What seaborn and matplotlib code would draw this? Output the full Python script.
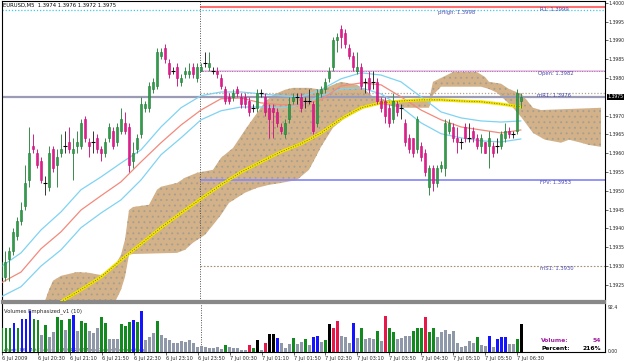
import numpy as np
import seaborn as sns
import matplotlib.pyplot as plt
from matplotlib.transforms import blended_transform_factory

sns.set_style("white")
plt.rcParams["font.family"] = ["DejaVu Sans"]
plt.rcParams["hatch.linewidth"] = 0.6

# EURUSD M5 candles, 6 Jul 19:45 .. 7 Jul 06:35
opens = [1.3927, 1.3927, 1.3932, 1.3934, 1.3938, 1.3942, 1.3946, 1.3953, 1.3962, 1.3960,
         1.3958, 1.3952, 1.3951, 1.3961, 1.3957, 1.3960, 1.3962, 1.3963, 1.3960, 1.3962,
         1.3962, 1.3969, 1.3963, 1.3963, 1.3964, 1.3961, 1.3960, 1.3964, 1.3966, 1.3963,
         1.3966, 1.3968, 1.3967, 1.3958, 1.3961, 1.3965, 1.3972, 1.3972, 1.3977, 1.3978,
         1.3986, 1.3988, 1.3984, 1.3982, 1.3983, 1.3979, 1.3981, 1.3981, 1.3983, 1.3980,
         1.3982, 1.3984, 1.3983, 1.3982, 1.3982, 1.3980, 1.3977, 1.3975, 1.3975, 1.3977,
         1.3975, 1.3975, 1.3974, 1.3972, 1.3972, 1.3976, 1.3975, 1.3972, 1.3972, 1.3971,
         1.3967, 1.3965, 1.3969, 1.3974, 1.3975, 1.3975, 1.3974, 1.3974, 1.3973, 1.3968,
         1.3976, 1.3977, 1.3980, 1.3983, 1.3990, 1.3993, 1.3992, 1.3988, 1.3986, 1.3982,
         1.3983, 1.3979, 1.3980, 1.3979, 1.3979, 1.3974, 1.3974, 1.3972, 1.3969, 1.3973,
         1.3972, 1.3968, 1.3964, 1.3964, 1.3961, 1.3962, 1.3960, 1.3951, 1.3956, 1.3952,
         1.3956, 1.3956, 1.3966, 1.3967, 1.3964, 1.3963, 1.3967, 1.3964, 1.3966, 1.3964,
         1.3962, 1.3963, 1.3962, 1.3962, 1.3962, 1.3962, 1.3964, 1.3966, 1.3965, 1.3966,
         1.3974]
highs = [1.3933, 1.3934, 1.3935, 1.3940, 1.3943, 1.3947, 1.3957, 1.3967, 1.3965, 1.3961,
         1.3959, 1.3954, 1.3962, 1.3962, 1.3961, 1.3965, 1.3966, 1.3967, 1.3964, 1.3966,
         1.3969, 1.3970, 1.3964, 1.3966, 1.3965, 1.3962, 1.3964, 1.3968, 1.3967, 1.3968,
         1.3972, 1.3971, 1.3968, 1.3963, 1.3965, 1.3975, 1.3974, 1.3979, 1.3980, 1.3988,
         1.3988, 1.3989, 1.3985, 1.3983, 1.3984, 1.3981, 1.3983, 1.3984, 1.3984, 1.3984,
         1.3984, 1.3987, 1.3987, 1.3983, 1.3983, 1.3981, 1.3978, 1.3976, 1.3977, 1.3978,
         1.3976, 1.3976, 1.3975, 1.3973, 1.3977, 1.3977, 1.3976, 1.3973, 1.3973, 1.3972,
         1.3968, 1.3969, 1.3975, 1.3976, 1.3976, 1.3976, 1.3975, 1.3977, 1.3974, 1.3977,
         1.3978, 1.3980, 1.3983, 1.3991, 1.3992, 1.3994, 1.3993, 1.3989, 1.3987, 1.3987,
         1.3984, 1.3980, 1.3982, 1.3982, 1.3980, 1.3975, 1.3975, 1.3973, 1.3976, 1.3974,
         1.3973, 1.3969, 1.3965, 1.3964, 1.3970, 1.3963, 1.3961, 1.3957, 1.3957, 1.3957,
         1.3958, 1.3969, 1.3969, 1.3968, 1.3967, 1.3964, 1.3968, 1.3968, 1.3967, 1.3965,
         1.3965, 1.3963, 1.3966, 1.3963, 1.3964, 1.3966, 1.3968, 1.3967, 1.3966, 1.3977,
         1.3976]
lows = [1.3926, 1.3926, 1.3926, 1.3933, 1.3937, 1.3941, 1.3945, 1.3951, 1.3960, 1.3956,
        1.3952, 1.3949, 1.3950, 1.3955, 1.3951, 1.3959, 1.3960, 1.3960, 1.3953, 1.3960,
        1.3961, 1.3963, 1.3959, 1.3960, 1.3960, 1.3958, 1.3959, 1.3963, 1.3961, 1.3962,
        1.3965, 1.3965, 1.3955, 1.3956, 1.3960, 1.3964, 1.3971, 1.3971, 1.3976, 1.3977,
        1.3985, 1.3984, 1.3980, 1.3981, 1.3978, 1.3978, 1.3980, 1.3980, 1.3980, 1.3979,
        1.3982, 1.3983, 1.3982, 1.3981, 1.3980, 1.3977, 1.3973, 1.3973, 1.3974, 1.3975,
        1.3972, 1.3972, 1.3970, 1.3971, 1.3971, 1.3975, 1.3970, 1.3964, 1.3964, 1.3967,
        1.3965, 1.3964, 1.3968, 1.3973, 1.3973, 1.3971, 1.3972, 1.3973, 1.3965, 1.3967,
        1.3975, 1.3976, 1.3979, 1.3982, 1.3987, 1.3988, 1.3988, 1.3985, 1.3982, 1.3981,
        1.3977, 1.3976, 1.3976, 1.3977, 1.3973, 1.3971, 1.3968, 1.3967, 1.3968, 1.3970,
        1.3969, 1.3962, 1.3960, 1.3959, 1.3960, 1.3958, 1.3954, 1.3949, 1.3950, 1.3951,
        1.3955, 1.3954, 1.3965, 1.3963, 1.3960, 1.3961, 1.3963, 1.3963, 1.3963, 1.3961,
        1.3960, 1.3960, 1.3956, 1.3959, 1.3960, 1.3961, 1.3963, 1.3964, 1.3964, 1.3965,
        1.3972]
closes = [1.3931, 1.3931, 1.3934, 1.3939, 1.3942, 1.3945, 1.3952, 1.3960, 1.3961, 1.3957,
          1.3953, 1.3952, 1.3960, 1.3956, 1.3959, 1.3961, 1.3962, 1.3961, 1.3961, 1.3963,
          1.3968, 1.3964, 1.3962, 1.3963, 1.3961, 1.3960, 1.3963, 1.3967, 1.3962, 1.3967,
          1.3969, 1.3966, 1.3957, 1.3960, 1.3964, 1.3973, 1.3973, 1.3978, 1.3979, 1.3987,
          1.3987, 1.3985, 1.3981, 1.3982, 1.3980, 1.3980, 1.3982, 1.3982, 1.3981, 1.3983,
          1.3983, 1.3984, 1.3984, 1.3982, 1.3981, 1.3978, 1.3974, 1.3974, 1.3976, 1.3976,
          1.3973, 1.3973, 1.3971, 1.3972, 1.3976, 1.3976, 1.3971, 1.3969, 1.3971, 1.3968,
          1.3966, 1.3968, 1.3973, 1.3975, 1.3975, 1.3972, 1.3974, 1.3974, 1.3966, 1.3976,
          1.3977, 1.3979, 1.3982, 1.3990, 1.3991, 1.3991, 1.3989, 1.3986, 1.3983, 1.3983,
          1.3978, 1.3979, 1.3977, 1.3979, 1.3974, 1.3972, 1.3970, 1.3968, 1.3974, 1.3971,
          1.3972, 1.3963, 1.3961, 1.3960, 1.3969, 1.3959, 1.3955, 1.3956, 1.3952, 1.3956,
          1.3957, 1.3968, 1.3968, 1.3964, 1.3963, 1.3963, 1.3964, 1.3964, 1.3964, 1.3962,
          1.3964, 1.3960, 1.3964, 1.3960, 1.3962, 1.3965, 1.3966, 1.3965, 1.3965, 1.3976,
          1.3975]

volumes = [47, 47, 47, 56, 47, 63, 63, 78, 63, 62,
           33, 52, 28, 39, 67, 62, 42, 63, 71, 40,
           60, 55, 41, 36, 46, 67, 55, 24, 24, 24,
           53, 49, 58, 62, 58, 79, 23, 28, 36, 60,
           33, 26, 23, 17, 17, 21, 20, 23, 17, 10,
           12, 10, 8, 8, 10, 6, 13, 10, 7, 7,
           4, 4, 13, 8, 23, 4, 17, 34, 34, 26,
           17, 7, 15, 26, 15, 20, 25, 13, 28, 30,
           20, 23, 54, 47, 60, 31, 28, 18, 55, 26,
           46, 24, 26, 25, 40, 21, 69, 46, 38, 24,
           26, 31, 30, 40, 47, 47, 67, 38, 46, 28,
           39, 42, 35, 40, 17, 9, 12, 21, 18, 28,
           13, 12, 31, 10, 24, 28, 28, 15, 15, 24,
           54]
# g green, b blue, s grey, r red, k black
vol_kind = ("gggbgbbbgg" "sgssggsgbs" "ggsssggsss" "gggbgbsssg" "ssssssssss"
            "ssssssgsss" "ssrgksrkkb" "sssgssgsbb" "sgkrrsssbs" "gsssgsrggs"
            "sssgggrggs" "sssssssssg" "ssbsbbbssg" "k")

# envelope around the fast average, read every 5 bars
ma_idx = list(range(0, 131, 5))
ma_mid = [1.39255, 1.39284, 1.39346, 1.39391, 1.39449, 1.39487, 1.39524, 1.39577, 1.39628,
          1.39675, 1.39715, 1.39745, 1.39747, 1.39734, 1.39729, 1.39729, 1.39742, 1.39779,
          1.39787, 1.39782, 1.39750, 1.39715, 1.39689, 1.39670, 1.39662, 1.39654, 1.39662]
ma_up = [1.39298, 1.39335, 1.39396, 1.39444, 1.39503, 1.39537, 1.39574, 1.39609, 1.39670,
         1.39721, 1.39753, 1.39763, 1.39763, 1.39758, 1.39753, 1.39750, 1.39769, 1.39798,
         1.39814, 1.39808, 1.39790, 1.39750, 1.39710, 1.39694, 1.39686, 1.39683, 1.39686]
ma_dn = [1.39218, 1.39245, 1.39300, 1.39343, 1.39402, 1.39441, 1.39476, 1.39529, 1.39596,
         1.39641, 1.39689, 1.39713, 1.39723, 1.39723, 1.39721, 1.39729, 1.39753, 1.39771,
         1.39774, 1.39758, 1.39723, 1.39681, 1.39652, 1.39641, 1.39633, 1.39630, 1.39638]
slow_idx = list(range(15, 131, 5))
slow_ma = [1.39205, 1.39237, 1.39271, 1.39316, 1.39359, 1.39402, 1.39441, 1.39479, 1.39516,
           1.39550, 1.39577, 1.39604, 1.39625, 1.39654, 1.39691, 1.39721, 1.39734, 1.39739,
           1.39742, 1.39742, 1.39739, 1.39737, 1.39731, 1.39723]

# ichimoku cloud edges
cloud_top_idx = [11, 12, 13, 15, 19, 22, 25, 27, 29, 30, 31, 32, 33, 37, 39, 40, 44, 46, 49,
                 53, 55, 58, 61, 64, 66, 68, 71, 73, 77, 80, 83, 85, 89, 91, 93, 96, 100,
                 107, 108, 109, 113, 119, 121, 122, 125, 127, 130, 131, 133, 135, 150]
cloud_top = [1.39207, 1.39237, 1.39261, 1.39274, 1.39284, 1.39282, 1.39276, 1.39290, 1.39311,
             1.39330, 1.39370, 1.39449, 1.39457, 1.39463, 1.39503, 1.39511, 1.39521, 1.39535,
             1.39548, 1.39556, 1.39588, 1.39614, 1.39662, 1.39707, 1.39737, 1.39755, 1.39769,
             1.39774, 1.39774, 1.39769, 1.39782, 1.39790, 1.39782, 1.39769, 1.39750, 1.39742,
             1.39739, 1.39742, 1.39790, 1.39795, 1.39816, 1.39816, 1.39803, 1.39790, 1.39785,
             1.39771, 1.39758, 1.39747, 1.39721, 1.39715, 1.39721]
cloud_bot_idx = [11, 12, 28, 29, 30, 31, 32, 33, 44, 46, 48, 51, 53, 55, 57, 61, 64, 67, 70,
                 74, 77, 79, 80, 83, 86, 91, 95, 100, 107, 108, 110, 120, 122, 124, 126, 128,
                 130, 133, 136, 140, 142, 145, 147, 150]
cloud_bot = [1.39207, 1.39197, 1.39197, 1.39215, 1.39237, 1.39271, 1.39330, 1.39332, 1.39335,
             1.39343, 1.39362, 1.39383, 1.39409, 1.39436, 1.39468, 1.39495, 1.39508, 1.39516,
             1.39521, 1.39529, 1.39556, 1.39596, 1.39617, 1.39668, 1.39694, 1.39721, 1.39731,
             1.39721, 1.39721, 1.39755, 1.39777, 1.39777, 1.39771, 1.39761, 1.39742, 1.39721,
             1.39697, 1.39654, 1.39636, 1.39628, 1.39636, 1.39628, 1.39622, 1.39617]

lv_names = ["R1", "pHigh", "Open", "mR1", "FPV", "mS1"]
lv_values = [1.3999, 1.3998, 1.3982, 1.3976, 1.3953, 1.3930]

time_labels = ["6 Jul 2009", "6 Jul 20:30", "6 Jul 21:10", "6 Jul 21:50", "6 Jul 22:30",
               "6 Jul 23:10", "6 Jul 23:50", "7 Jul 00:30", "7 Jul 01:10", "7 Jul 01:50",
               "7 Jul 02:30", "7 Jul 03:10", "7 Jul 03:50", "7 Jul 04:30", "7 Jul 05:10",
               "7 Jul 05:50", "7 Jul 06:30"]
day_break = 49.75
vol_percent = 216

idx = np.arange(len(opens))
o, h, l, c = (np.array(v) for v in (opens, highs, lows, closes))

fig = plt.figure(figsize=(6.25, 3.63), dpi=100)
ax = fig.add_axes([2 / 625, 62 / 363, 603 / 625, 300 / 363])
axv = fig.add_axes([2 / 625, 11 / 363, 603 / 625, 49 / 363])
for a in (ax, axv):
    a.set_xlim(0.25, 151)
    a.set_facecolor("white")
    for s in a.spines.values():
        s.set_color("black")
        s.set_linewidth(0.8)
ax.spines["bottom"].set_color("#888888")
ax.spines["bottom"].set_linewidth(1.6)
axv.spines["top"].set_color("#888888")
axv.spines["top"].set_linewidth(1.6)
ax.set_ylim(1.39207, 1.40005)
axv.set_ylim(0, 94)

# cloud
cx = np.r_[cloud_top_idx, cloud_bot_idx[::-1]]
cy = np.r_[cloud_top, cloud_bot[::-1]]
ax.fill(cx, cy, facecolor="#d3b189", edgecolor="#a39f92", hatch="...", linewidth=0, zorder=1)

# levels
ax.axhline(lv_values[1], color="#40c8e8", ls=(0, (1, 1.5)), lw=0.9, zorder=2)
ax.hlines(lv_values[0], day_break, 151, color="#ff6f6f", lw=1.5, zorder=2)
ax.hlines(lv_values[2], day_break, 151, color="#f0c8e0", lw=1.4, zorder=2)
ax.hlines(lv_values[2], day_break, 151, color="#9a6ad0", lw=0.7, ls=(0, (1, 1.5)), zorder=2)
ax.hlines(lv_values[3], day_break, 151, color="#b5a48f", lw=0.9, ls=(0, (1, 1.5)), zorder=2)
ax.hlines(lv_values[4], day_break, 151, color="#8c8cf5", lw=1.3, zorder=2)
ax.hlines(lv_values[5], day_break, 151, color="#a89070", lw=0.8, ls=(0, (1.5, 1.5)), zorder=2)
ax.axhline(closes[-1], color="#9b9bb5", lw=1.6, zorder=2)
for a in (ax, axv):
    a.axvline(day_break, color="#505050", ls=(0, (1, 1.5)), lw=0.7, zorder=2)

lab_x = [134.75, 109.25, 134.25, 134, 134.75, 134.75]
for name, val, x in zip(lv_names, lv_values, lab_x):
    ax.text(x, val, f"{name}: {val:.4f}", fontsize=3.8, color="#4b4bb0", va="top", ha="left", zorder=7)

# averages
sns.lineplot(x=ma_idx, y=ma_up, ax=ax, color="#7fd3f2", lw=0.9, estimator=None, zorder=3)
sns.lineplot(x=ma_idx, y=ma_dn, ax=ax, color="#7fd3f2", lw=0.9, estimator=None, zorder=3)
sns.lineplot(x=ma_idx, y=ma_mid, ax=ax, color="#f28a7c", lw=0.9, estimator=None, zorder=3)
sns.lineplot(x=slow_idx, y=slow_ma, ax=ax, color="#f2e400", lw=2.2, estimator=None, zorder=3)
ax.plot(slow_idx, slow_ma, color="#5a5a00", lw=0.6, ls=(0, (1, 2)), zorder=3.5)

# candles
bull, bear, doji = c > o, c < o, c == o
ax.vlines(idx[bull], l[bull], h[bull], color="#3a8a4a", lw=0.7, zorder=5)
ax.vlines(idx[bear], l[bear], h[bear], color="#d0208a", lw=0.7, zorder=5)
ax.vlines(idx[doji], l[doji], h[doji], color="#333333", lw=0.7, zorder=5)
ax.bar(idx[bull], c[bull] - o[bull], bottom=o[bull], width=0.72, color="#2e9e4a",
       edgecolor="#1f7a35", lw=0.4, zorder=6)
ax.bar(idx[bear], o[bear] - c[bear], bottom=c[bear], width=0.72, color="#e8198c",
       edgecolor="#c0107a", lw=0.4, zorder=6)
ax.hlines(c[doji], idx[doji] - 0.4, idx[doji] + 0.4, color="black", lw=0.8, zorder=6)

# volume
kind_colors = {"g": "#138a1f", "b": "#1414ff", "s": "#8e98a8", "r": "#e8174a", "k": "#000000"}
axv.bar(idx, volumes, width=0.72, color=[kind_colors[k] for k in vol_kind], lw=0,
        antialiased=False, zorder=3)

# axes text
ax.yaxis.tick_right()
ticks = [t for t in np.round(np.arange(1.3925, 1.40001, 0.0005), 4) if t != 1.3975]
ax.set_yticks(ticks)
ax.set_yticklabels([f"{t:.4f}" for t in ticks])
ax.tick_params(axis="y", labelsize=3.3, length=2, pad=0.5, width=0.5, right=True, left=False)
ax.tick_params(axis="x", bottom=False, labelbottom=False)
ax.set_xlabel("")
ax.set_ylabel("")
tr = blended_transform_factory(ax.transAxes, ax.transData)
ax.text(1.004, closes[-1], f"{closes[-1]:.4f}", transform=tr, fontsize=3.3, color="white",
        va="center", ha="left", bbox=dict(facecolor="black", edgecolor="none", pad=0.5))
ax.text(0.002, 0.987, f"EURUSD,M5  {opens[-1]:.4f} {highs[-1]:.4f} {lows[-1]:.4f} {closes[-1]:.4f}",
        transform=ax.transAxes, fontsize=3.8, va="center", ha="left", color="black")

axv.set_yticks([])
axv.set_ylabel("")
axv.text(1.004, 0.9, "92.4", transform=axv.transAxes, fontsize=3.3, va="center", ha="left")
axv.text(1.004, 0.02, "0.00", transform=axv.transAxes, fontsize=3.3, va="center", ha="left")
axv.text(0.003, 0.84, "Volumes Emphasized_v1 (10)", transform=axv.transAxes, fontsize=3.8,
         va="center", ha="left")
axv.text(0.003, 0.05, "Alpari (UK) MetaTrader, \u00a9 2001-2009 MetaQuotes Software Corp.",
         transform=axv.transAxes, fontsize=3.2, va="center", ha="left", color="#333333", zorder=0)

tick_pos = [0] + [9 + 8 * k for k in range(len(time_labels) - 1)]
axv.set_xticks(tick_pos)
axv.set_xticklabels(time_labels, ha="left")
axv.tick_params(axis="x", labelsize=3.6, length=2, pad=1, width=0.5, bottom=True)

fig.text(541 / 625, 1 - 341 / 363, "Volume:", fontsize=4.3, color="#a020a0", weight="bold", va="center")
fig.text(601 / 625, 1 - 341 / 363, f"{volumes[-1]}", fontsize=4.3, color="#a020a0", weight="bold",
         va="center", ha="right")
fig.text(541 / 625, 1 - 348 / 363, "Percent:", fontsize=4.3, color="black", weight="bold", va="center")
fig.text(601 / 625, 1 - 348 / 363, f"{vol_percent}%", fontsize=4.3, color="black", weight="bold",
         va="center", ha="right")

fig.savefig("out.png", dpi=100)
